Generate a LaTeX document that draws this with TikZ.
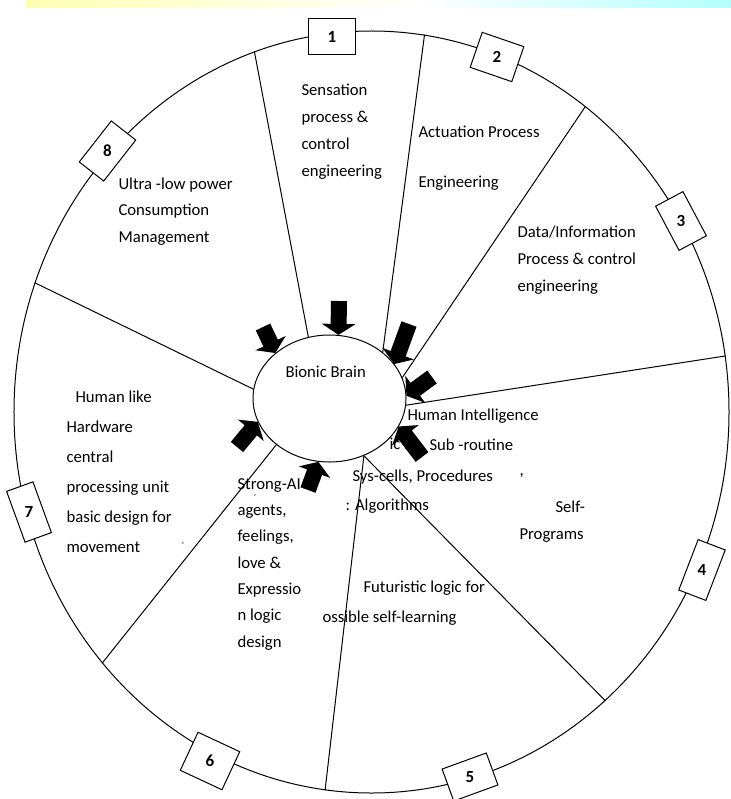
\documentclass[tikz,border=0pt]{standalone}
\usepackage{fontspec}
\setmainfont{Carlito}
\usetikzlibrary{shapes.geometric,arrows.meta}
\tikzset{
  txt/.style={inner sep=0, anchor=north west, align=left, font=\fontsize{16.7bp}{#1}\selectfont},
  txt/.default=27bp,
  numbox/.style={draw, fill=white, inner sep=0},
  numlbl/.style={inner sep=0, font=\bfseries\fontsize{17bp}{20bp}\selectfont},
  bigarrow/.style={line width=16bp, -{Triangle[width=33bp,length=11bp]}},
  tick/.style={inner sep=0, font=\fontsize{9bp}{9bp}\selectfont},
}
\begin{document}
\begin{tikzpicture}[x=1bp, y=-1bp, line width=1bp]
\useasboundingbox (0,0) rectangle (731,799);
% colour band at the top
\shade[left color=yellow!30, right color=white] (26,0) rectangle (420,8);
\shade[left color=white, right color=cyan!30] (420,0) rectangle (731,8);
% outer wheel
\node[ellipse, draw, minimum width=715bp, minimum height=762bp, inner sep=0] (rim) at (371.5,412) {};
% sector texts
\node[txt=27bp] (sens) at (301,83) {Sensation\\process \&\\control\\engineering};
\node[txt=26bp] (act) at (418,125) {Actuation Process\\[24bp]Engineering};
\node[txt=27bp] (data) at (517,225) {Data/Information\\Process \& control\\engineering};
\node[txt=26.5bp] (ultra) at (118,177) {Ultra -low power\\Consumption\\Management};
\node[txt=30bp] (human) at (66,390) {\hspace*{9bp}Human like\\Hardware\\central\\processing unit\\basic design for\\movement};
\node[txt=26.3bp] (strong) at (237,478) {Strong-AI\\agents,\\feelings,\\love \&\\Expressio\\n logic\\design};
\node[txt] (hint) at (407,408) {Human Intelligence};
\node[txt] (logic) at (389,438) {ic In};
\node[txt] (subr) at (429,438) {Sub -routine};
\node[txt] (sys) at (352,469) {Sys-cells, Procedures};
\node[txt] (comma) at (519,473) {,};
\node[txt] (algo) at (345,498) {: Algorithms};
\node[txt] (self) at (555,500) {Self-};
\node[txt] (prog) at (519,528) {Programs};
\node[txt] (fut) at (363,580) {Futuristic logic for};
\node[txt] (learn) at (322,610) {ossible self-learning};
\node[tick] (tick1) at (255,497) {'};
\node[tick] (tick2) at (183,545) {'};
% centre
\node[ellipse, draw, fill=white, minimum width=153bp, minimum height=127bp, inner sep=0] (brain) at (329.5,398.5) {};
\node[txt] (brainlbl) at (285,366) {Bionic Brain};
% dividers
\draw (brain.109) -- (rim.108);
\draw (brain.41.5) -- (rim.82);
\draw (brain.16) -- (rim.55.8);
\draw (brain.-5.6) -- (rim.9.4);
\draw (brain.-59) -- (rim.-51.9);
\draw (brain.-59) -- (rim.-97.5);
\draw (brain.221.7) -- (rim.223.5);
\draw (brain.173.6) -- (rim.159.2);
% arrows into the brain
\coordinate (a1) at (263,327);
\coordinate (a2) at (339,301);
\coordinate (a3) at (409,324);
\coordinate (a4) at (432,377);
\coordinate (a5) at (422,457);
\coordinate (a6) at (308,490);
\coordinate (a7) at (237,447);
\draw[bigarrow] (a1) -- (brain.140);
\draw[bigarrow] (a2) -- (brain.82);
\draw[bigarrow] (a3) -- (brain.28);
\draw[bigarrow] (a4) -- (brain.2);
\draw[bigarrow] (a5) -- (brain.-22);
\draw[bigarrow] (a6) -- (brain.-100);
\draw[bigarrow] (a7) -- (brain.198);
% numbered boxes on the wheel
\node[numbox, minimum width=47bp, minimum height=36bp] (box1) at (332,37) {};
\node[numlbl] at (box1) {1};
\node[numbox, minimum width=44bp, minimum height=37bp, rotate=-19] (box2) at (497,57) {};
\node[numlbl] at (box2) {2};
\node[numbox, minimum width=50bp, minimum height=31bp, rotate=-62] (box3) at (681,221) {};
\node[numlbl] at (box3) {3};
\node[numbox, minimum width=54bp, minimum height=29bp, rotate=69] (box4) at (702,570) {};
\node[numlbl] at (box4) {4};
\node[numbox, minimum width=47bp, minimum height=34bp, rotate=20] (box5) at (470,777) {};
\node[numlbl] at (box5) {5};
\node[numbox, minimum width=46bp, minimum height=42bp, rotate=-25] (box6) at (210,761) {};
\node[numlbl] at (box6) {6};
\node[numbox, minimum width=54bp, minimum height=28bp, rotate=-70] (box7) at (29,512) {};
\node[numlbl] at (box7) {7};
\node[numbox, minimum width=52bp, minimum height=31bp, rotate=52] (box8) at (107.5,151) {};
\node[numlbl] at (box8) {8};
\end{tikzpicture}
\end{document}
